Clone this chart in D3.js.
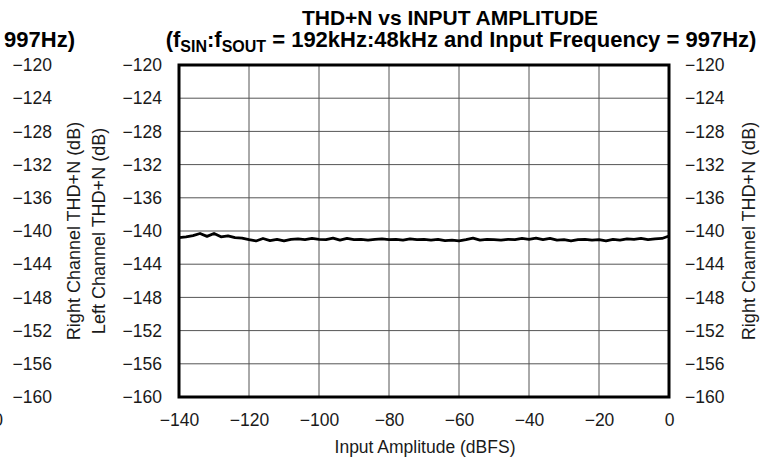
<!DOCTYPE html>
<html>
<head>
<meta charset="utf-8">
<script src="https://cdn.jsdelivr.net/npm/d3@7/dist/d3.min.js"></script>
<style>
  html, body { margin: 0; padding: 0; background: #fff; }
  svg { display: block; font-family: "Liberation Sans", Arial, Helvetica, sans-serif; }
</style>
</head>
<body>
<svg id="chart" width="770" height="462"></svg>
<script>
// ---- data ----
const inputAmplitude = [-140,-138,-136,-134,-132,-130,-128,-126,-124,-122,-120,-118,-116,-114,-112,-110,-108,-106,-104,-102,-100,-98,-96,-94,-92,-90,-88,-86,-84,-82,-80,-78,-76,-74,-72,-70,-68,-66,-64,-62,-60,-58,-56,-54,-52,-50,-48,-46,-44,-42,-40,-38,-36,-34,-32,-30,-28,-26,-24,-22,-20,-18,-16,-14,-12,-10,-8,-6,-4,-2,0];
const thdN = [-140.8,-140.7,-140.55,-140.3,-140.65,-140.3,-140.7,-140.6,-140.8,-140.85,-141.05,-141.2,-140.9,-141.15,-141.0,-141.2,-141.0,-140.95,-141.05,-140.9,-141.0,-141.05,-140.85,-141.1,-140.9,-141.05,-141.0,-141.1,-141.0,-140.95,-141.05,-141.0,-141.1,-140.95,-141.05,-141.0,-141.1,-141.0,-141.15,-141.1,-141.2,-141.05,-140.85,-141.1,-141.0,-141.05,-141.1,-141.0,-141.05,-140.9,-141.0,-140.85,-141.05,-140.9,-141.1,-141.05,-141.2,-141.05,-141.0,-141.1,-141.05,-141.2,-141.0,-141.1,-140.95,-141.0,-140.9,-141.05,-140.95,-140.9,-140.6];
const xTicks = [-140,-120,-100,-80,-60,-40,-20,0];
const yTicks = [-120,-124,-128,-132,-136,-140,-144,-148,-152,-156,-160];
const titleLine1 = "THD+N vs INPUT AMPLITUDE";
const xLabel = "Input Amplitude (dBFS)";
const leftLabelOuter = "Right Channel THD+N (dB)";
const leftLabelInner = "Left Channel THD+N (dB)";
const rightLabel = "Right Channel THD+N (dB)";

// ---- layout ----
const L = 179, R = 669, T = 65, B = 397;
const svg = d3.select("#chart");
const x = d3.scaleLinear().domain([-140, 0]).range([L, R]);
const y = d3.scaleLinear().domain([-160, -120]).range([B, T]);
const fmt = d => (d < 0 ? "\u2212" + Math.abs(d) : String(d));
const tickColor = "#1a1a1a";
const fs = 17.5;

// gridlines
const grid = svg.append("g");
grid.selectAll("line.v").data(xTicks.slice(1, -1)).join("line")
  .attr("x1", d => x(d)).attr("x2", d => x(d)).attr("y1", T).attr("y2", B)
  .attr("stroke", "#555").attr("stroke-width", 1);
grid.selectAll("line.h").data(yTicks.slice(1, -1)).join("line")
  .attr("y1", d => y(d)).attr("y2", d => y(d)).attr("x1", L).attr("x2", R)
  .attr("stroke", "#555").attr("stroke-width", 1);

// data line
svg.append("path")
  .datum(inputAmplitude.map((a, i) => [a, thdN[i]]))
  .attr("fill", "none").attr("stroke", "#000").attr("stroke-width", 2.8)
  .attr("stroke-linejoin", "round")
  .attr("d", d3.line().x(d => x(d[0])).y(d => y(d[1])));

// frame
svg.append("rect").attr("x", L).attr("y", T).attr("width", R - L).attr("height", B - T)
  .attr("fill", "none").attr("stroke", "#000").attr("stroke-width", 3);

function styleAxis(g) {
  g.select(".domain").remove();
  g.selectAll(".tick line").remove();
  g.selectAll("text").attr("font-size", fs).attr("fill", tickColor)
    .attr("font-family", "'Liberation Sans', Arial, Helvetica, sans-serif");
}

// axes
svg.append("g").attr("transform", `translate(${L},0)`)
  .call(d3.axisLeft(y).tickValues(yTicks).tickFormat(fmt).tickSize(0).tickPadding(17))
  .call(styleAxis);
svg.append("g").attr("transform", `translate(${R},0)`)
  .call(d3.axisRight(y).tickValues(yTicks).tickFormat(fmt).tickSize(0).tickPadding(16))
  .call(styleAxis);
svg.append("g").attr("transform", `translate(52,0)`)
  .call(d3.axisLeft(y).tickValues(yTicks).tickFormat(fmt).tickSize(0).tickPadding(0))
  .call(styleAxis);
svg.append("g").attr("transform", `translate(0,${B})`)
  .call(d3.axisBottom(x).tickValues(xTicks).tickFormat(fmt).tickSize(0).tickPadding(17))
  .call(styleAxis);
// cut-off neighbouring chart x tick "0"
svg.append("text").attr("x", 3).attr("y", 426).attr("text-anchor", "end")
  .attr("font-size", fs).attr("fill", tickColor).text("0");

// axis titles
svg.append("text").attr("x", (L + R) / 2 + 1).attr("y", 453).attr("text-anchor", "middle")
  .attr("font-size", fs).attr("fill", tickColor).text(xLabel);
const rot = (cx, cy, txt) => svg.append("text")
  .attr("transform", `translate(${cx},${cy}) rotate(-90)`)
  .attr("text-anchor", "middle").attr("font-size", 18).attr("fill", tickColor).text(txt);
rot(80, 231, leftLabelOuter);
rot(105, 231, leftLabelInner);
rot(755, 231, rightLabel);

// titles
svg.append("text").attr("x", 450).attr("y", 25).attr("text-anchor", "middle")
  .attr("font-size", 21).attr("font-weight", "bold").attr("fill", "#000").text(titleLine1);

const t2 = svg.append("text").attr("x", 461).attr("y", 47).attr("text-anchor", "middle")
  .attr("font-size", 22).attr("font-weight", "bold").attr("fill", "#000");
t2.append("tspan").text("(f");
t2.append("tspan").attr("font-size", 16).attr("dy", 5).text("SIN");
t2.append("tspan").attr("dy", -5).text(":f");
t2.append("tspan").attr("font-size", 16).attr("dy", 5).text("SOUT");
t2.append("tspan").attr("dy", -5).text(" = 192kHz:48kHz and Input Frequency = 997Hz)");

// cut-off neighbouring chart title tail
svg.append("text").attr("x", 75).attr("y", 47).attr("text-anchor", "end")
  .attr("font-size", 22).attr("font-weight", "bold").attr("fill", "#000").text("Frequency = 997Hz)");
</script>
</body>
</html>
